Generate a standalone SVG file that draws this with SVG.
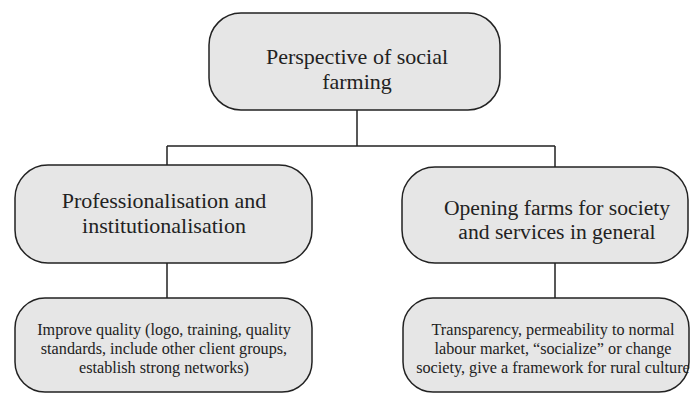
<svg xmlns="http://www.w3.org/2000/svg" width="690" height="393" viewBox="0 0 690 393">
<style>
.box{fill:#e6e6e6;stroke:#222;stroke-width:1.5}
.conn{fill:none;stroke:#222;stroke-width:1.5}
</style>
<rect width="690" height="393" fill="#fff"/>
<g id="connectors">
<path class="conn" d="M357 110 V146 M167 146 H555 M167 146 V165 M555 146 V167 M167 263 V298 M555 263 V298"/>
</g>
<g font-family="'Liberation Serif', 'Times New Roman', serif" fill="#222" text-anchor="middle">
<g id="top">
<rect class="box" x="209" y="13" width="291" height="97" rx="32" ry="32"/>
<text font-size="22" x="357" y="64">Perspective of social</text>
<text font-size="22" x="357" y="89">farming</text>
</g>
<g id="mid-left">
<rect class="box" x="15" y="165" width="297" height="98" rx="33" ry="33"/>
<text font-size="22" x="164" y="208">Professionalisation and</text>
<text font-size="22" x="164" y="233">institutionalisation</text>
</g>
<g id="mid-right">
<rect class="box" x="402" y="167" width="286" height="96" rx="33" ry="33"/>
<text font-size="21.6" x="557" y="215">Opening farms for society</text>
<text font-size="21.6" x="557" y="239">and services  in general</text>
</g>
<g id="bottom-left">
<rect class="box" x="15" y="298" width="297" height="94" rx="30" ry="30"/>
<text font-size="16.2" x="164" y="335">Improve quality (logo, training, quality</text>
<text font-size="16.2" x="164" y="354">standards, include other client groups,</text>
<text font-size="16.2" x="164" y="373">establish strong networks)</text>
</g>
<g id="bottom-right">
<rect class="box" x="403" y="298" width="286" height="94" rx="30" ry="30"/>
<text font-size="16.2" x="553" y="335">Transparency, permeability to normal</text>
<text font-size="16.2" x="553" y="354">labour market, “socialize” or change</text>
<text font-size="16.2" x="553" y="373">society, give a framework for rural culture</text>
</g>
</g>
</svg>
